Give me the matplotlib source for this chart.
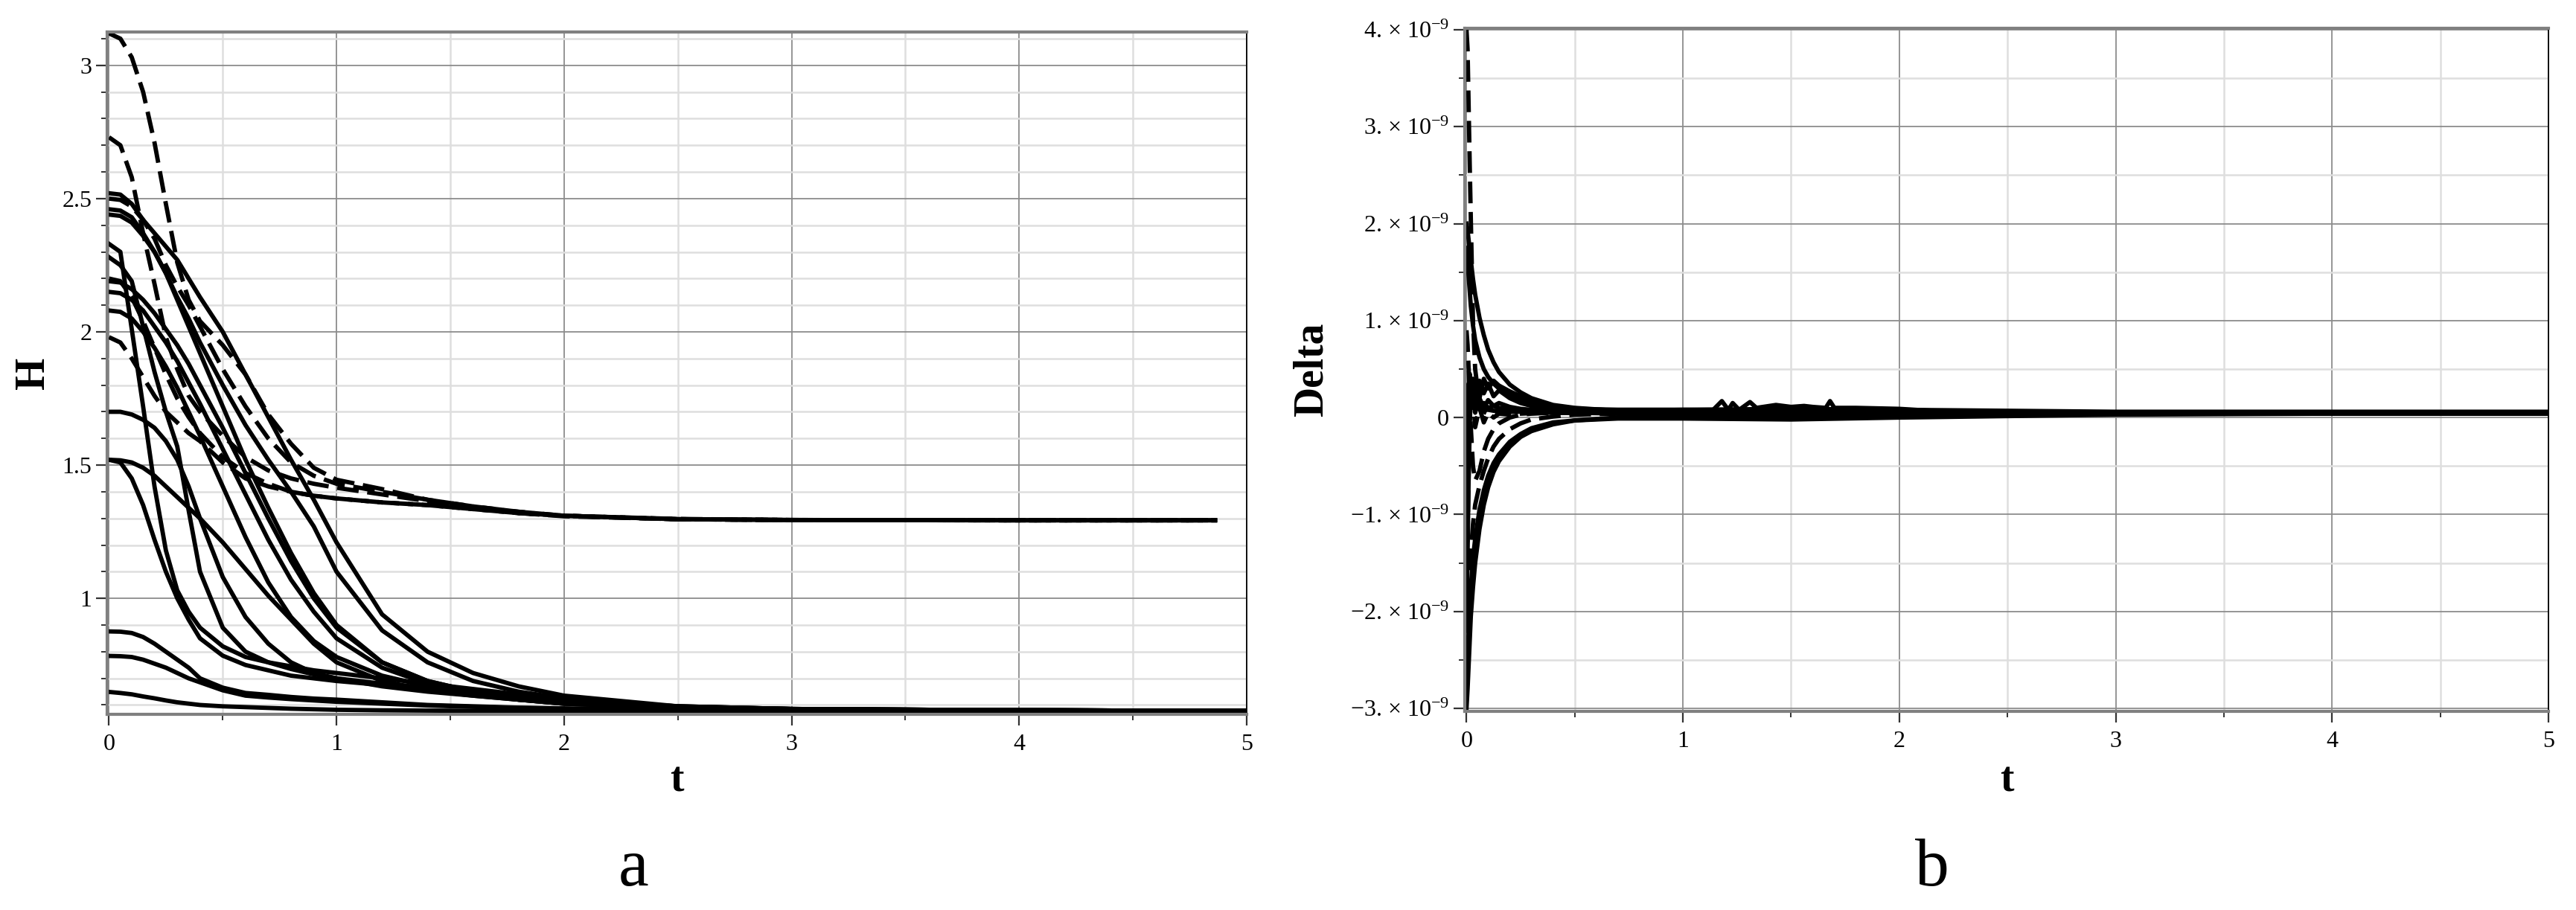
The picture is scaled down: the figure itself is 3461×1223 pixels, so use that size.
import numpy as np
import matplotlib
matplotlib.use("Agg")
import matplotlib.pyplot as plt
from matplotlib.ticker import MultipleLocator

plt.rcParams['font.family'] = ['Liberation Serif', 'DejaVu Serif']
plt.rcParams['mathtext.fontset'] = 'custom'
plt.rcParams['mathtext.rm'] = 'Liberation Serif'
plt.rcParams['mathtext.it'] = 'Liberation Serif:italic'
plt.rcParams['mathtext.bf'] = 'Liberation Serif:bold'

# ---------------- panel a: H(t) ----------------
t_left = [0, 0.05, 0.1, 0.15, 0.2, 0.25, 0.3, 0.35, 0.4, 0.5, 0.6, 0.7, 0.8, 0.9, 1.0,
          1.2, 1.4, 1.6, 1.8, 2.0, 2.5, 3.0, 4.0, 5.0]
t_dash = [0, 0.05, 0.1, 0.15, 0.2, 0.25, 0.3, 0.35, 0.4, 0.5, 0.6, 0.7, 0.8, 0.9, 1.0,
          1.2, 1.4, 1.6, 1.8, 2.0, 2.5, 3.0, 4.0, 4.87]

# solid curves
h_s1 = [2.52, 2.515, 2.48, 2.42, 2.37, 2.32, 2.27, 2.20, 2.13, 2.00, 1.84, 1.68, 1.52, 1.37, 1.21, 0.94, 0.80, 0.72, 0.67, 0.635, 0.595, 0.585, 0.58, 0.578]
h_s2 = [2.46, 2.455, 2.43, 2.37, 2.30, 2.22, 2.13, 2.05, 1.96, 1.80, 1.65, 1.52, 1.40, 1.27, 1.10, 0.88, 0.76, 0.69, 0.65, 0.625, 0.592, 0.584, 0.58, 0.578]
h_s3 = [2.44, 2.435, 2.41, 2.36, 2.30, 2.22, 2.12, 2.02, 1.92, 1.72, 1.52, 1.34, 1.17, 1.02, 0.90, 0.76, 0.69, 0.65, 0.625, 0.61, 0.59, 0.583, 0.58, 0.578]
h_s4 = [2.19, 2.185, 2.16, 2.12, 2.07, 2.01, 1.95, 1.88, 1.80, 1.64, 1.47, 1.30, 1.14, 1.00, 0.89, 0.76, 0.69, 0.65, 0.625, 0.61, 0.59, 0.583, 0.58, 0.578]
h_s5 = [2.15, 2.145, 2.12, 2.08, 2.02, 1.96, 1.89, 1.81, 1.73, 1.56, 1.39, 1.22, 1.07, 0.95, 0.85, 0.74, 0.68, 0.645, 0.62, 0.605, 0.59, 0.583, 0.58, 0.578]
h_s6 = [2.08, 2.075, 2.05, 2.00, 1.94, 1.87, 1.79, 1.70, 1.61, 1.42, 1.23, 1.06, 0.93, 0.84, 0.78, 0.71, 0.67, 0.64, 0.62, 0.605, 0.59, 0.583, 0.58, 0.578]
h_s7 = [2.33, 2.30, 2.01, 1.72, 1.42, 1.18, 1.03, 0.95, 0.89, 0.82, 0.78, 0.76, 0.745, 0.73, 0.72, 0.70, 0.68, 0.66, 0.64, 0.62, 0.595, 0.585, 0.58, 0.578]
h_s8 = [2.28, 2.25, 2.19, 2.02, 1.85, 1.70, 1.57, 1.33, 1.10, 0.89, 0.80, 0.76, 0.735, 0.715, 0.70, 0.68, 0.665, 0.65, 0.635, 0.62, 0.595, 0.585, 0.58, 0.578]
h_s9 = [1.70, 1.70, 1.69, 1.67, 1.64, 1.59, 1.52, 1.42, 1.30, 1.08, 0.93, 0.83, 0.76, 0.72, 0.70, 0.67, 0.65, 0.635, 0.62, 0.61, 0.592, 0.585, 0.58, 0.578]
h_s10 = [1.52, 1.51, 1.45, 1.35, 1.22, 1.10, 1.00, 0.92, 0.85, 0.785, 0.75, 0.73, 0.71, 0.70, 0.69, 0.675, 0.66, 0.645, 0.63, 0.615, 0.594, 0.585, 0.58, 0.578]
h_s11 = [1.52, 1.518, 1.51, 1.49, 1.46, 1.42, 1.38, 1.34, 1.30, 1.21, 1.11, 1.01, 0.92, 0.83, 0.76, 0.69, 0.655, 0.635, 0.62, 0.605, 0.59, 0.583, 0.58, 0.578]
h_s12 = [0.876, 0.875, 0.87, 0.855, 0.83, 0.80, 0.77, 0.74, 0.70, 0.665, 0.645, 0.638, 0.63, 0.624, 0.62, 0.61, 0.60, 0.595, 0.59, 0.587, 0.583, 0.58, 0.578, 0.577]
h_s13 = [0.784, 0.783, 0.78, 0.77, 0.755, 0.74, 0.72, 0.70, 0.685, 0.655, 0.635, 0.628, 0.622, 0.617, 0.612, 0.605, 0.598, 0.593, 0.589, 0.586, 0.582, 0.58, 0.578, 0.577]
h_s14 = [0.649, 0.645, 0.64, 0.632, 0.625, 0.617, 0.61, 0.605, 0.60, 0.595, 0.592, 0.589, 0.586, 0.584, 0.582, 0.58, 0.579, 0.578, 0.578, 0.577, 0.577, 0.577, 0.577, 0.577]

# dashed curves
h_d1 = [3.12, 3.10, 3.03, 2.90, 2.71, 2.48, 2.26, 2.12, 2.04, 1.95, 1.84, 1.69, 1.58, 1.49, 1.445, 1.41, 1.37, 1.345, 1.325, 1.31, 1.297, 1.294, 1.293, 1.293]
h_d2 = [2.73, 2.70, 2.58, 2.37, 2.18, 1.98, 1.86, 1.76, 1.70, 1.61, 1.53, 1.48, 1.45, 1.43, 1.415, 1.39, 1.365, 1.34, 1.32, 1.308, 1.297, 1.294, 1.293, 1.293]
h_d3 = [2.50, 2.495, 2.47, 2.42, 2.35, 2.25, 2.17, 2.10, 2.02, 1.86, 1.72, 1.60, 1.51, 1.46, 1.43, 1.40, 1.37, 1.345, 1.325, 1.31, 1.297, 1.294, 1.293, 1.293]
h_d4 = [2.20, 2.19, 2.13, 2.04, 1.94, 1.84, 1.75, 1.68, 1.62, 1.53, 1.47, 1.43, 1.40, 1.385, 1.375, 1.36, 1.35, 1.335, 1.32, 1.31, 1.297, 1.294, 1.293, 1.293]
h_d5 = [1.98, 1.96, 1.90, 1.83, 1.76, 1.70, 1.66, 1.62, 1.59, 1.51, 1.45, 1.42, 1.40, 1.385, 1.375, 1.36, 1.35, 1.335, 1.32, 1.31, 1.298, 1.294, 1.293, 1.293]

h_ticks = [1, 1.5, 2, 2.5, 3]
h_labels = ['1', '1.5', '2', '2.5', '3']

# ---------------- panel b: Delta(t), in units of 1e-9 ----------------
t_right = [0, 0.005, 0.01, 0.015, 0.02, 0.03, 0.04, 0.06, 0.08, 0.1, 0.125, 0.15,
           0.2, 0.25, 0.3, 0.4, 0.5, 0.7, 1.0, 1.5, 2.0, 3.0, 4.0, 5.0]
d_spike = [4.0, 3.8, 3.2, 2.6, 2.05, 1.0, 0.5, 0.15, 0.06, 0.04, 0.05, 0.06, 0.06, 0.06, 0.06, 0.06, 0.06, 0.06, 0.06, 0.06, 0.06, 0.05, 0.05, 0.05]
d_top1 = [2.0, 1.93, 1.83, 1.72, 1.62, 1.43, 1.27, 1.03, 0.85, 0.70, 0.57, 0.47, 0.34, 0.26, 0.20, 0.13, 0.10, 0.07, 0.06, 0.06, 0.06, 0.05, 0.05, 0.05]
d_top2 = [1.75, 1.60, 1.45, 1.30, 1.15, 0.95, 0.80, 0.62, 0.50, 0.42, 0.35, 0.30, 0.23, 0.18, 0.15, 0.10, 0.08, 0.07, 0.06, 0.07, 0.06, 0.05, 0.05, 0.05]
d_low1 = [-3.0, -2.8, -2.55, -2.3, -2.05, -1.75, -1.5, -1.15, -0.9, -0.72, -0.56, -0.45, -0.30, -0.20, -0.14, -0.07, -0.03, 0.0, 0.02, 0.03, 0.04, 0.04, 0.04, 0.04]
d_low2 = [-2.7, -2.45, -2.2, -1.95, -1.75, -1.45, -1.25, -0.95, -0.75, -0.6, -0.47, -0.38, -0.25, -0.17, -0.11, -0.05, -0.03, -0.01, -0.01, -0.02, 0.0, 0.03, 0.04, 0.04]
d_low3 = [-2.2, -2.0, -1.8, -1.6, -1.4, -1.1, -0.9, -0.7, -0.55, -0.42, -0.3, -0.22, -0.12, -0.06, -0.02, 0.01, 0.03, 0.04, 0.05, 0.05, 0.05, 0.05, 0.05, 0.05]
d_mid1 = [0.9, 0.75, 0.5, 0.2, -0.1, -0.5, -0.65, -0.55, -0.35, -0.22, -0.12, -0.06, 0.0, 0.03, 0.04, 0.05, 0.05, 0.05, 0.05, 0.05, 0.05, 0.05, 0.05, 0.05]
d_mid2 = [0.0, 0.25, 0.35, 0.15, 0.3, 0.1, 0.35, 0.2, 0.4, 0.3, 0.38, 0.33, 0.27, 0.22, 0.17, 0.11, 0.09, 0.08, 0.08, 0.09, 0.08, 0.06, 0.06, 0.06]
d_mid3 = [-0.6, -0.2, 0.3, 0.45, 0.2, 0.4, 0.15, 0.38, 0.25, 0.35, 0.22, 0.28, 0.2, 0.15, 0.12, 0.08, 0.06, 0.05, 0.04, 0.03, 0.03, 0.05, 0.05, 0.05]
d_mid4 = [-1.2, -0.5, 0.0, 0.3, 0.1, 0.25, 0.05, 0.2, 0.1, 0.18, 0.12, 0.15, 0.11, 0.09, 0.08, 0.06, 0.05, 0.04, 0.02, 0.0, 0.02, 0.04, 0.05, 0.05]
d_mid5 = [-1.6, -1.2, -0.6, -0.1, 0.3, 0.2, -0.1, 0.1, -0.05, 0.05, 0.0, 0.04, 0.03, 0.04, 0.045, 0.05, 0.05, 0.05, 0.05, 0.05, 0.05, 0.05, 0.05, 0.05]
d_mid6 = [-2.2, -1.4, -0.6, 0.0, 0.4, 0.2, 0.3, 0.1, 0.15, 0.1, 0.12, 0.1, 0.09, 0.08, 0.07, 0.06, 0.06, 0.07, 0.08, 0.07, 0.06, 0.05, 0.05, 0.05]
d_mid7 = [0.3, 0.2, 0.1, 0.15, 0.1, 0.12, 0.1, 0.09, 0.08, 0.08, 0.07, 0.07, 0.06, 0.06, 0.055, 0.05, 0.05, 0.05, 0.05, 0.05, 0.05, 0.05, 0.05, 0.05]

# small spikes on the converged band
t_wig = [0.6, 1.0, 1.14, 1.18, 1.21, 1.23, 1.26, 1.31, 1.34, 1.43, 1.5, 1.56, 1.6, 1.66, 1.68, 1.70, 1.8, 2.0, 2.15, 2.3, 3.0, 4.0, 5.0]
d_wig = [0.08, 0.08, 0.08, 0.17, 0.08, 0.15, 0.08, 0.16, 0.10, 0.13, 0.11, 0.12, 0.11, 0.10, 0.17, 0.10, 0.10, 0.09, 0.07, 0.055, 0.05, 0.05, 0.05]

d_ticks = [-3, -2, -1, 0, 1, 2, 3, 4]
d_labels = [r'$-$3. $\times$ 10$^{-9}$', r'$-$2. $\times$ 10$^{-9}$', r'$-$1. $\times$ 10$^{-9}$', '0',
            r'1. $\times$ 10$^{-9}$', r'2. $\times$ 10$^{-9}$', r'3. $\times$ 10$^{-9}$', r'4. $\times$ 10$^{-9}$']
scale = 1e-9

# ---------------- figure ----------------
W, H = 3462, 1223
fig = plt.figure(figsize=(W / 100, H / 100), dpi=100)


def box(l, t, r, b):
    return [l / W, 1 - b / H, (r - l) / W, (b - t) / H]


ax1 = fig.add_axes(box(144, 43, 1675, 960))
ax2 = fig.add_axes(box(1968, 38, 3424, 956))

dash = (0, (5, 2))
lw = 4.2


def style(ax):
    ax.set_xlim(-0.008, 5.0)
    ax.set_xticks([0, 1, 2, 3, 4, 5])
    ax.xaxis.set_minor_locator(MultipleLocator(0.5))
    ax.grid(which='major', color='#8c8c8c', lw=1.3)
    ax.grid(which='minor', color='#dedede', lw=1.8)
    ax.set_axisbelow(True)
    for s in ['left', 'bottom', 'top']:
        ax.spines[s].set_color('#808080')
        ax.spines[s].set_linewidth(3)
    ax.spines['right'].set_color('black')
    ax.spines['right'].set_linewidth(1.3)
    ax.tick_params(which='major', direction='out', length=11, width=1.6,
                   color='#333333', labelsize=23)
    ax.tick_params(which='minor', direction='out', length=6, width=1.4, color='#333333')
    ax.tick_params(axis='x', pad=8)
    ax.tick_params(axis='y', pad=4)


# panel a
for h in [h_s1, h_s2, h_s3, h_s4, h_s5, h_s6, h_s7, h_s8, h_s9, h_s10, h_s11,
          h_s12, h_s13, h_s14]:
    ax1.plot(t_left, h, color='black', lw=lw)
for h in [h_d1, h_d2, h_d3, h_d4, h_d5]:
    ax1.plot(t_dash, h, color='black', lw=lw, linestyle=dash)
style(ax1)
ax1.set_ylim(0.565, 3.125)
ax1.set_yticks(h_ticks)
ax1.set_yticklabels(h_labels)
ax1.yaxis.set_minor_locator(MultipleLocator(0.1))

# panel b
for d in [d_top1, d_top2, d_low1, d_low2, d_mid2, d_mid3, d_mid4, d_mid6, d_mid7]:
    ax2.plot(t_right, np.array(d) * scale, color='black', lw=lw)
for d in [d_spike, d_low3, d_mid1, d_mid5]:
    ax2.plot(t_right, np.array(d) * scale, color='black', lw=lw, linestyle=dash)
ax2.plot(t_wig, np.array(d_wig) * scale, color='black', lw=lw)
style(ax2)
ax2.set_ylim(-3.03e-9, 4.015e-9)
ax2.set_yticks(np.array(d_ticks) * scale)
ax2.set_yticklabels(d_labels)
ax2.yaxis.set_minor_locator(MultipleLocator(0.5e-9))


def ftext(x, y, s, **kw):
    fig.text(x / W, 1 - y / H, s, **kw)


ftext(45, 501, 'H', rotation=90, fontsize=40, fontweight='bold', ha='center', va='center')
ftext(1763, 497, 'Delta', rotation=90, fontsize=40, fontweight='bold', ha='center', va='center')
ftext(909, 1049, 't', fontsize=40, fontweight='bold', ha='center', va='center')
ftext(2696, 1049, 't', fontsize=40, fontweight='bold', ha='center', va='center')
ftext(851, 1190, 'a', fontsize=66, ha='center', va='baseline')
ftext(2596, 1190, 'b', fontsize=66, ha='center', va='baseline')

fig.savefig('out.png', dpi=100, facecolor='white')
